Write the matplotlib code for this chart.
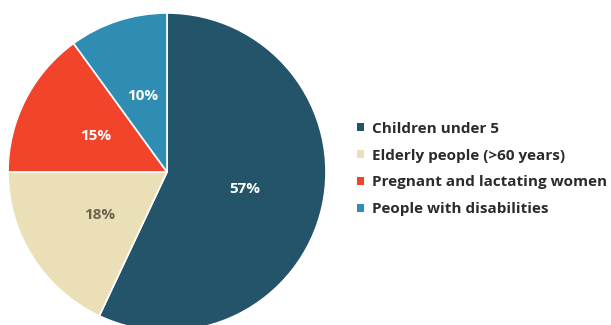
import matplotlib.pyplot as plt
from matplotlib.patches import Patch

labels = ['Children under 5', 'Elderly people (>60 years)',
          'Pregnant and lactating women', 'People with disabilities']
values = [57, 18, 15, 10]
colors = ['#235469', '#ebdfb7', '#f2442a', '#2f8db3']
text_colors = ['white', '#6b6250', 'white', 'white']

plt.rcParams['font.family'] = ['Open Sans', 'DejaVu Sans']

fig = plt.figure(figsize=(6.11, 3.25), dpi=100)
ax = fig.add_axes([(167 - 159) / 611, (325 - 172 - 159) / 325, 318 / 611, 318 / 325])

wedges, texts, autotexts = ax.pie(
    values, colors=colors, startangle=90, counterclock=False,
    autopct='%d%%', pctdistance=0.5,
    wedgeprops=dict(edgecolor='white', linewidth=1.2),
    textprops=dict(fontsize=11, fontweight='bold'))
for t, c in zip(autotexts, text_colors):
    t.set_color(c)
ax.set_xlim(-1, 1)
ax.set_ylim(-1, 1)
ax.set_aspect('equal')

handles = [Patch(facecolor=c, edgecolor='none') for c in colors]
fig.legend(handles, labels, loc='center left', bbox_to_anchor=(343 / 611, 1 - 169 / 325),
           frameon=False, prop=dict(weight='bold', size=11),
           handlelength=0.5, handleheight=0.5, handletextpad=0.5, labelspacing=0.85,
           labelcolor='#2b2b2b')

fig.savefig('out.png', dpi=100)
